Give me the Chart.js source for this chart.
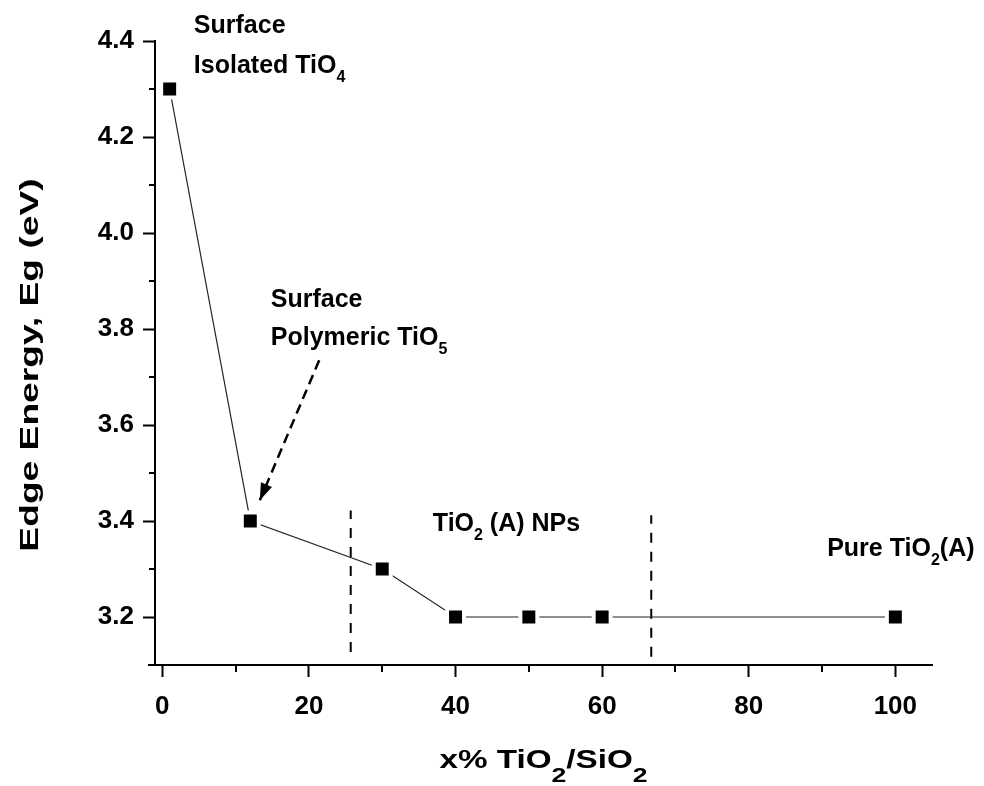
<!DOCTYPE html>
<html>
<head>
<meta charset="utf-8">
<script src="https://cdn.jsdelivr.net/npm/chart.js@4.4.0/dist/chart.umd.min.js"></script>
<style>
  html, body { margin: 0; padding: 0; background: #fff; }
  #wrap { width: 984px; height: 786px; }
</style>
</head>
<body>
<div id="wrap"><canvas id="edgeChart" width="984" height="786"></canvas></div>
<script>
// x% TiO2/SiO2 and the measured edge energy (eV)
const loading = [1, 12, 30, 40, 50, 60, 100];
const edgeEnergy = [4.3, 3.4, 3.3, 3.2, 3.2, 3.2, 3.2];

// axis ticks
const xMajorTicks = [0, 20, 40, 60, 80, 100];
const xMinorTicks = [10, 30, 50, 70, 90];
const yMajorTicks = [3.2, 3.4, 3.6, 3.8, 4.0, 4.2, 4.4];
const yMinorTicks = [3.3, 3.5, 3.7, 3.9, 4.1, 4.3];

// dashed region dividers
const dividerX = [25.7, 66.7];
const dividerBottom = [3.127, 3.117];
const dividerTop = [3.422, 3.412];

// dashed arrow pointing at the 12% sample
const arrowStart = { x: 21.4, y: 3.735 };
const arrowTip = { x: 13.3, y: 3.443 };

// notes in the plot, "_n" is a subscript digit
const notes = [
    { text: 'Surface', x: 4.3, y: 4.416 },
    { text: 'Isolated TiO_4', x: 4.3, y: 4.334 },
    { text: 'Surface', x: 14.8, y: 3.845 },
    { text: 'Polymeric TiO_5', x: 14.8, y: 3.766 },
    { text: 'TiO_2 (A) NPs', x: 36.9, y: 3.379 },
    { text: 'Pure TiO_2(A)', x: 90.7, y: 3.328 }
];

const xTitle = 'x% TiO_2/SiO_2';
const yTitle = 'Edge Energy, Eg (eV)';

const SANS = '"Liberation Sans", Arial, sans-serif';

function splitRuns(text) {
    return text.split(/(_\d)/).filter(s => s).map(s =>
        s[0] === '_' ? { t: s.slice(1), sub: true } : { t: s, sub: false });
}

// draws text with subscripts; stretch widens the glyphs along the text
function drawRich(ctx, text, x, y, o) {
    const runs = splitRuns(text);
    const font = s => 'bold ' + s + 'px ' + SANS;
    let total = 0;
    runs.forEach(r => {
        ctx.font = font(r.sub ? o.subSize : o.size);
        r.w = ctx.measureText(r.t).width;
        total += r.w;
    });
    ctx.save();
    ctx.translate(x, y);
    if (o.rotate) ctx.rotate(o.rotate);
    ctx.scale(o.stretch || 1, 1);
    ctx.fillStyle = '#000';
    ctx.textAlign = 'left';
    ctx.textBaseline = 'alphabetic';
    let cx = o.align === 'center' ? -total / 2 : 0;
    runs.forEach(r => {
        ctx.font = font(r.sub ? o.subSize : o.size);
        ctx.fillText(r.t, cx, r.sub ? o.subDrop : 0);
        cx += r.w;
    });
    ctx.restore();
}

const extras = {
    id: 'extras',
    afterDraw(chart) {
        const ctx = chart.ctx;
        const xs = chart.scales.x, ys = chart.scales.y;
        const area = chart.chartArea;

        ctx.save();
        ctx.strokeStyle = '#000';
        ctx.lineWidth = 2;
        ctx.beginPath();
        // minor ticks
        xMinorTicks.forEach(v => {
            const px = Math.round(xs.getPixelForValue(v));
            ctx.moveTo(px, area.bottom);
            ctx.lineTo(px, area.bottom + 7);
        });
        yMinorTicks.forEach(v => {
            const py = Math.round(ys.getPixelForValue(v));
            ctx.moveTo(area.left, py);
            ctx.lineTo(area.left - 6, py);
        });
        // x axis sticks out a bit left of the y axis
        ctx.moveTo(area.left - 7, area.bottom);
        ctx.lineTo(area.left, area.bottom);
        ctx.stroke();

        // arrow head
        const tx = xs.getPixelForValue(arrowTip.x), ty = ys.getPixelForValue(arrowTip.y);
        const sx = xs.getPixelForValue(arrowStart.x), sy = ys.getPixelForValue(arrowStart.y);
        const ang = Math.atan2(ty - sy, tx - sx);
        const len = 17, half = 6;
        const bx = tx - len * Math.cos(ang), by = ty - len * Math.sin(ang);
        ctx.fillStyle = '#000';
        ctx.beginPath();
        ctx.moveTo(tx, ty);
        ctx.lineTo(bx + half * Math.sin(ang), by - half * Math.cos(ang));
        ctx.lineTo(bx - half * Math.sin(ang), by + half * Math.cos(ang));
        ctx.closePath();
        ctx.fill();
        ctx.restore();

        // notes
        notes.forEach(n => {
            drawRich(ctx, n.text, xs.getPixelForValue(n.x), ys.getPixelForValue(n.y),
                { size: 25, subSize: 16, subDrop: 9 });
        });

        // axis titles
        drawRich(ctx, xTitle, (area.left + area.right) / 2, 768,
            { size: 25, subSize: 20, subDrop: 14, align: 'center', stretch: 1.33 });
        drawRich(ctx, yTitle, 38, (area.top + area.bottom) / 2 + 12,
            { size: 26, subSize: 18, subDrop: 10, align: 'center', stretch: 1.43, rotate: -Math.PI / 2 });
    }
};

const tickFont = { family: '"Liberation Sans", Arial, sans-serif', weight: 'bold', size: 26 };

const datasets = [{
    data: loading.map((v, i) => ({ x: v, y: edgeEnergy[i] })),
    borderColor: '#222',
    borderWidth: 1.2,
    pointStyle: 'rect',
    pointRadius: 12,
    pointBackgroundColor: '#000',
    pointBorderColor: '#fff',
    pointBorderWidth: 4,
    tension: 0,
    order: 0
}, {
    data: [arrowStart, arrowTip],
    borderColor: '#000',
    borderWidth: 2.5,
    borderDash: [10, 6],
    pointRadius: 0,
    order: 1
}];

dividerX.forEach((v, i) => {
    datasets.push({
        data: [{ x: v, y: dividerBottom[i] }, { x: v, y: dividerTop[i] }],
        borderColor: '#000',
        borderWidth: 2,
        borderDash: [10, 9],
        pointRadius: 0,
        order: 1
    });
});

new Chart(document.getElementById('edgeChart'), {
    type: 'line',
    data: { datasets: datasets },
    options: {
        responsive: false,
        animation: false,
        events: [],
        devicePixelRatio: 1,
        layout: { padding: { top: 41, right: 52, left: 0, bottom: 0 } },
        plugins: { legend: { display: false }, tooltip: { enabled: false } },
        scales: {
            x: {
                type: 'linear',
                min: -1,
                max: 105,
                afterBuildTicks: s => { s.ticks = xMajorTicks.map(v => ({ value: v })); },
                afterFit: s => { s.height = 121; },
                grid: { drawOnChartArea: false, drawTicks: true, tickLength: 12, tickWidth: 2, tickColor: '#000' },
                border: { display: true, color: '#000', width: 2 },
                ticks: { color: '#000', font: tickFont, padding: 14, maxRotation: 0, autoSkip: false }
            },
            y: {
                type: 'linear',
                min: 3.1,
                max: 4.4,
                afterBuildTicks: s => { s.ticks = yMajorTicks.map(v => ({ value: v })); },
                afterFit: s => { s.width = 155; },
                grid: { drawOnChartArea: false, drawTicks: true, tickLength: 12, tickWidth: 2, tickColor: '#000' },
                border: { display: true, color: '#000', width: 2 },
                ticks: { color: '#000', font: tickFont, padding: 9, autoSkip: false, callback: v => v.toFixed(1) }
            }
        }
    },
    plugins: [extras]
});
</script>
</body>
</html>
